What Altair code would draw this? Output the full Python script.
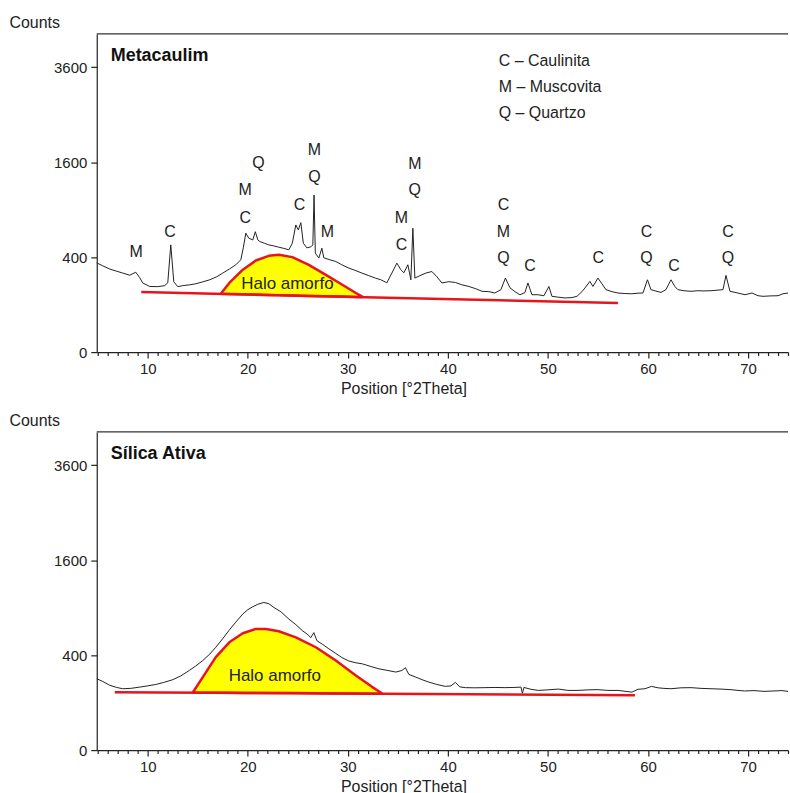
import altair as alt
import pandas as pd

# ---------------- data ----------------
# Metacaulim diffractogram (2theta, counts)
meta_x = [4.9, 5.5, 6.2, 6.9, 7.5, 8.2, 8.8, 9.2, 9.5, 10.2,
          11.0, 11.7, 12.0, 12.3, 12.6, 13.0, 13.5, 14.2, 14.8, 15.5,
          16.2, 16.9, 17.5, 18.2, 18.8, 19.3, 19.55, 19.8, 20.1, 20.5,
          20.75, 21.0, 21.2, 21.7, 22.1, 22.6, 23.1, 23.6, 24.1, 24.45,
          24.8, 25.05, 25.3, 25.55, 25.9, 26.3, 26.5, 26.62, 26.75, 27.1,
          27.4, 27.6, 28.2, 28.8, 29.4, 30.1, 30.7, 31.4, 32.1, 32.75,
          33.3, 33.9, 34.4, 34.9, 35.3, 35.6, 36.0, 36.3, 36.5, 36.7,
          37.2, 37.8, 38.4, 38.9, 39.4, 40.1, 40.75, 41.4, 42.1, 42.8,
          43.4, 44.1, 44.7, 45.3, 45.75, 46.2, 46.7, 47.2, 47.7, 48.0,
          48.4, 49.0, 49.6, 50.1, 50.4, 51.0, 51.7, 52.4, 52.9, 53.4,
          53.7, 54.2, 54.5, 55.0, 55.4, 55.8, 56.4, 57.0, 57.7, 58.4,
          59.0, 59.5, 59.95, 60.3, 60.8, 61.3, 61.8, 62.3, 62.7, 63.0,
          63.6, 64.3, 65.0, 65.6, 66.3, 66.9, 67.5, 67.8, 68.2, 68.8,
          69.7, 70.4, 71.0, 71.5, 72.2, 73.0, 73.5, 74.0]
meta_y = [353, 330, 306, 290, 277, 262, 283, 245, 212, 191,
          190, 196, 213, 510, 219, 190, 196, 201, 207, 219,
          232, 252, 277, 308, 338, 378, 482, 627, 575, 558,
          643, 558, 542, 524, 510, 500, 488, 477, 464, 526,
          717, 662, 743, 526, 482, 491, 510, 1093, 434, 392,
          479, 394, 378, 364, 338, 313, 297, 277, 259, 243,
          232, 213, 277, 351, 301, 279, 338, 232, 680, 243,
          259, 277, 288, 252, 212, 220, 215, 201, 191, 178,
          164, 162, 155, 173, 243, 184, 162, 146, 157, 212,
          146, 146, 141, 191, 138, 134, 130, 132, 138, 162,
          182, 222, 191, 243, 207, 173, 162, 155, 152, 151,
          154, 155, 232, 173, 165, 158, 173, 232, 190, 173,
          167, 164, 167, 166, 167, 170, 173, 261, 164, 157,
          146, 155, 141, 138, 140, 141, 151, 155]

# Metacaulim amorphous halo (upper curve and its baseline) and red baseline
meta_halo_x = [17.3, 18.15, 19.5, 20.8, 22.1, 23.1, 24.45, 26.1, 27.8, 29.45, 30.8, 31.4]
meta_halo_top = [151, 212, 301, 372, 411, 420, 400, 338, 265, 201, 155, 138]
meta_halo_base = [151, 150, 148, 147, 145, 144, 142, 140, 138, 137, 135, 135]
meta_base_x = [9.35, 57.0]
meta_base_y = [160, 107]

# Peak labels of the Metacaulim pattern
meta_lbl_text = ["M", "C", "M", "C", "Q", "C", "M", "Q", "M", "M", "C", "M",
                 "Q", "C", "M", "Q", "C", "C", "C", "Q", "C", "C", "Q"]
meta_lbl_x = [8.84, 12.23, 19.74, 19.74, 21.07, 25.16, 26.65, 26.65, 27.95, 35.36,
              35.36, 36.69, 36.69, 45.56, 45.56, 45.56, 48.22, 55.03, 59.85, 59.85,
              62.61, 67.99, 67.99]
meta_lbl_y = [440, 637, 1163, 794, 1587, 959, 1806, 1361, 644, 794,
              510, 1577, 1163, 959, 644, 392, 330, 392, 644, 392,
              330, 644, 392]

# Silica ativa diffractogram
sil_x = [4.9, 5.5, 6.2, 6.9, 7.5, 8.3, 9.2, 10.0, 10.8, 11.6,
         12.5, 13.3, 14.15, 14.8, 15.5, 16.2, 16.8, 17.5, 18.1, 18.8,
         19.5, 20.0, 20.5, 21.0, 21.6, 22.1, 22.6, 23.3, 24.1, 24.8,
         25.45, 26.0, 26.3, 26.6, 26.9, 27.5, 28.1, 28.8, 29.4, 30.1,
         30.8, 31.45, 32.3, 33.1, 34.0, 34.8, 35.4, 35.75, 36.1, 36.8,
         37.5, 38.1, 38.9, 39.75, 40.3, 40.75, 41.2, 41.75, 42.7, 43.7,
         44.7, 45.7, 46.6, 47.3, 47.45, 47.6, 48.3, 49.05, 50.0, 51.05,
         52.0, 53.0, 54.0, 55.0, 56.0, 57.0, 58.4, 59.0, 59.7, 60.35,
         61.0, 61.6, 62.3, 63.3, 64.3, 65.3, 66.3, 67.3, 68.3, 69.0,
         69.65, 70.6, 71.6, 72.6, 73.4, 74.0]
sil_y = [226, 209, 186, 174, 167, 169, 176, 183, 191, 203,
         220, 244, 281, 314, 356, 409, 469, 551, 633, 726,
         821, 874, 911, 943, 967, 950, 903, 849, 762, 698,
         633, 591, 561, 612, 532, 494, 455, 414, 380, 352,
         338, 330, 310, 293, 281, 270, 281, 301, 254, 236,
         218, 205, 191, 180, 183, 203, 177, 173, 172, 173,
         174, 173, 174, 176, 143, 174, 164, 158, 161, 165,
         158, 158, 161, 162, 158, 158, 149, 164, 167, 180,
         172, 169, 167, 172, 173, 169, 167, 165, 162, 158,
         155, 157, 153, 155, 157, 153]

sil_halo_x = [14.5, 15.5, 16.8, 18.15, 19.5, 20.8, 21.8, 23.1, 24.8, 26.8, 28.8, 30.8, 32.45, 33.4]
sil_halo_top = [147, 236, 383, 515, 605, 651, 651, 626, 564, 469, 356, 247, 176, 143]
sil_halo_base = [147, 146, 146, 146, 145, 145, 144, 144, 144, 143, 142, 142, 141, 141]
sil_base_x = [6.7, 58.7]
sil_base_y = [149, 133]

# text
halo_label = "Halo amorfo"
meta_halo_lbl = (23.96, 206)
sil_halo_lbl = (22.7, 243)
legend_lines = ["C \u2013 Caulinita", "M \u2013 Muscovita", "Q \u2013 Quartzo"]

x_ticks = list(range(5, 75))          # every degree; labelled every 10
y_ticks = [0, 400, 1600, 3600]

# ---------------- styling ----------------
FONT = "Liberation Sans"
W, H = 693, 319
DARK = "#222222"
RED = "#e8141c"
YELLOW = "#ffff00"

x_scale = alt.Scale(domain=[4.9, 74.0], nice=False, zero=False)
y_scale = alt.Scale(type="sqrt", domain=[0, 4489], nice=False, zero=True)

x_axis = alt.Axis(values=x_ticks, title="Position [°2Theta]", grid=False, format="d",
                  labelExpr="datum.value % 10 === 0 ? datum.label : ''",
                  labelOverlap=False, labelBound=False,
                  ticks=True, tickWidth=1.2, tickColor="#222222",
                  tickSize={"condition": {"test": "datum.value % 10 === 0", "value": 6}, "value": 3.5},
                  labelPadding=3, labelFontSize=15, labelColor=DARK,
                  titleFontSize=16, titleFontWeight="normal", titleColor=DARK,
                  titleX=307.5, titleY=36, titleAlign="center", titleBaseline="middle",
                  domainColor="#222222", domainWidth=1.2, labelFlush=False)
y_axis = alt.Axis(values=y_ticks, title="Counts", grid=False, format="d",
                  ticks=True, tickWidth=1.2, tickColor="#222222",
                  tickSize=6, labelPadding=4, labelFontSize=15, labelColor=DARK,
                  titleFontSize=16, titleFontWeight="normal", titleColor=DARK,
                  titleAngle=0, titleX=-88, titleY=-11, titleAlign="left",
                  titleBaseline="middle", domainColor="#222222", domainWidth=1.2)


def X(field):
    return alt.X(field, type="quantitative", scale=x_scale, axis=x_axis)


def Y(field):
    return alt.Y(field, type="quantitative", scale=y_scale, axis=y_axis)


def panel(name, cx, cy, hx, htop, hbase, bx, by, hlbl, letters=None, legend=False):
    n = min(len(cx), len(cy))
    curve = alt.Chart(pd.DataFrame({"x": cx[:n], "y": cy[:n]})).mark_line(
        color=DARK, strokeWidth=1
    ).encode(x=X("x"), y=Y("y"))

    halo = alt.Chart(pd.DataFrame({"x": hx, "y": htop, "base": hbase})).mark_area(
        color=YELLOW, opacity=1, stroke=RED, strokeWidth=2.5, strokeJoin="round"
    ).encode(x=X("x"), y=Y("y"), y2="base:Q")

    base = alt.Chart(pd.DataFrame({"x": bx, "y": by})).mark_line(
        color=RED, strokeWidth=2.5
    ).encode(x=X("x"), y=Y("y"))

    halo_txt = alt.Chart(pd.DataFrame({"x": [hlbl[0]], "y": [hlbl[1]], "t": [halo_label]})).mark_text(
        fontSize=17, color=DARK, align="center", baseline="middle"
    ).encode(x=X("x"), y=Y("y"), text="t:N")

    border = alt.Chart(pd.DataFrame({"a": [0]})).mark_rule(
        color="#333333", strokeWidth=1.4
    ).encode(x=alt.value(0), x2=alt.value(W), y=alt.value(0))

    title = alt.Chart(pd.DataFrame({"t": [name]})).mark_text(
        fontSize=18, fontWeight="bold", color="#111111", align="left", baseline="middle"
    ).encode(x=alt.value(14), y=alt.value(22), text="t:N")

    layers = [curve, halo, base, halo_txt, border, title]

    if letters is not None:
        lt, lx, ly = letters
        lab = alt.Chart(pd.DataFrame({"x": lx, "y": ly, "t": lt})).mark_text(
            fontSize=16, color=DARK, align="center", baseline="middle"
        ).encode(x=X("x"), y=Y("y"), text="t:N")
        layers.append(lab)

    if legend:
        leg = alt.Chart(pd.DataFrame({"t": ["\n".join(legend_lines)]})).mark_text(
            fontSize=16, color=DARK, align="left", baseline="middle",
            lineBreak="\n", lineHeight=26
        ).encode(x=alt.value(403), y=alt.value(27.5), text="t:N")
        layers.append(leg)

    return alt.layer(*layers).properties(width=W, height=H)


top = panel("Metacaulim", meta_x, meta_y, meta_halo_x, meta_halo_top, meta_halo_base,
            meta_base_x, meta_base_y, meta_halo_lbl,
            letters=(meta_lbl_text, meta_lbl_x, meta_lbl_y), legend=True)
bottom = panel("Sílica Ativa", sil_x, sil_y, sil_halo_x, sil_halo_top, sil_halo_base,
               sil_base_x, sil_base_y, sil_halo_lbl)

chart = alt.vconcat(top, bottom, spacing=17).properties(
    padding={"left": 9, "top": 14, "right": 0, "bottom": 0}
).configure(font=FONT).configure_view(stroke=None)

chart.save("out.html", embed_options={"renderer": "svg", "actions": False})
